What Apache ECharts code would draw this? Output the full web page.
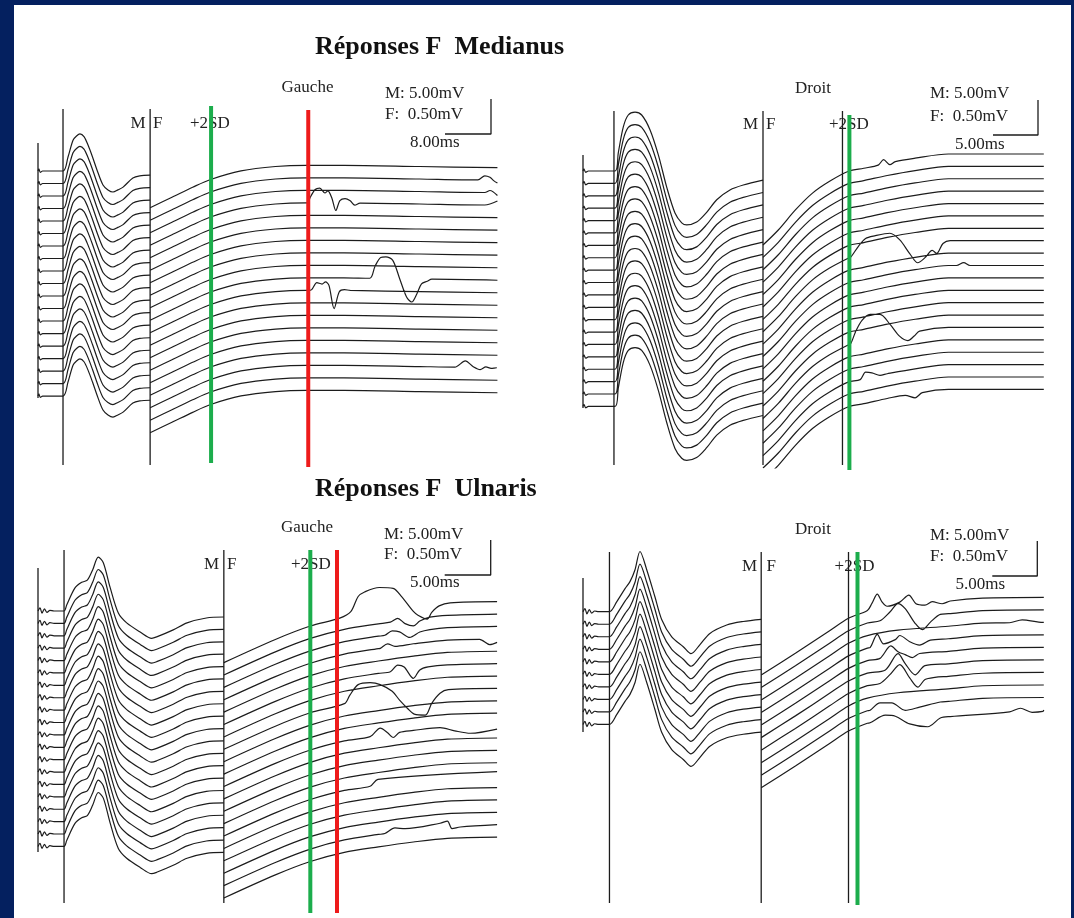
<!DOCTYPE html>
<html>
<head>
<meta charset="utf-8">
<script src="https://cdn.jsdelivr.net/npm/echarts@6/dist/echarts.min.js"></script>
<style>
  html, body { margin: 0; background: #04205f; }
  #chart { position: absolute; left: 14px; top: 5px; width: 1057px; height: 913px; background: #fff; }
</style>
</head>
<body>
<div id="chart"></div>
<script>
// ---- data -----------------------------------------------------------
// time in ms from the stimulus, amplitude in mV
// M-wave templates are in mV at M gain (5 mV / div), F parts at F gain (0.5 mV / div)

const sweepCounts = [19, 20, 20, 10];            // TL, TR, BL, BR
const panelTitles = ['Réponses F  Medianus', 'Réponses F  Ulnaris'];
const sideNames = ['Gauche', 'Droit', 'Gauche', 'Droit'];
const gainLabels = ['M: 5.00mV', 'F:  0.50mV'];
const barMs = [8, 5, 5, 5];
const barMv = 0.5;

const tlMWave = [[0,0],[0.15,0.3],[0.4,-0.2],[0.8,0],[4.35,0],[5.22,2.0],[6.09,4.4],[6.7,5.0],[7.3,5.3],[8.0,4.9],[8.7,3.7],[9.48,2.0],[10.26,0.15],[11.3,-2.0],[12.17,-2.7],[13.04,-3.0],[13.9,-2.7],[14.8,-2.3],[16.5,-1.0],[17.7,-0.7],[19.5,-0.6]];
const trMWave = [[0,0],[0.1,0.3],[0.3,-0.2],[0.6,0],[3.56,0],[3.92,2.6],[4.48,6.3],[5.03,8.0],[5.78,8.4],[6.52,8.0],[7.44,5.9],[8.37,2.3],[9.3,-2.3],[10.22,-6.0],[10.97,-7.4],[11.52,-7.7],[12.63,-7.3],[13.74,-5.9],[14.86,-4.1],[16.33,-2.7],[17.81,-2.0],[20.0,-1.3]];
const blMWave = [[0,0],[0.22,0.45],[0.43,-0.3],[0.7,0.3],[0.98,-0.2],[1.3,0.1],[1.74,0],[2.83,0],[3.12,0.86],[4.02,3.3],[4.75,4.1],[5.36,4.4],[5.95,5.9],[6.55,7.7],[7.1,6.9],[7.83,3.4],[8.73,-0.3],[9.64,-1.7],[11.1,-3.0],[12.36,-3.9],[12.9,-3.7],[14.7,-2.7],[16.2,-1.7],[18.3,-1.0],[20.2,-0.86]];
const brMWave = [[0,0],[0.22,0.45],[0.43,-0.3],[0.7,0.3],[0.98,-0.2],[1.3,0.1],[1.74,0],[2.94,0],[3.74,1.4],[4.67,3.3],[5.22,4.3],[5.78,6.0],[6.33,8.6],[7.08,6.0],[8.0,2.1],[8.74,-1.1],[9.86,-3.6],[11.14,-5.0],[12.0,-6.0],[13.0,-4.7],[14.1,-3.1],[15.97,-1.9],[17.8,-1.4],[19.8,-1.1]];

// slow drift of the F window (1 = level at the M|F cut, 0 = final level)
const tlTail = [[19.5,1],[23.3,0.74],[26.9,0.49],[29.9,0.3],[35.3,0.08],[41.3,-0.03],[46.7,-0.06],[53.2,-0.06],[66.4,-0.03],[79.9,0]];
const trTail = [[20.0,1],[21.7,0.835],[23.6,0.615],[25.5,0.43],[27.4,0.30],[29.5,0.19],[31.2,0.157],[33.8,0.10],[36.9,0.046],[40.6,0],[51.2,0]];
const blTail = [[20.2,1],[25.8,0.62],[29.6,0.4],[33.3,0.25],[37.0,0.16],[40.8,0.08],[44.5,0.02],[49.9,0]];
const brTail = [[19.8,1],[23.6,0.72],[27.4,0.43],[29.5,0.27],[31.6,0.17],[35.0,0.1],[40.6,0.05],[44.4,0.01],[51.2,0]];

// F responses: [sweep, [[ms, mV]]] deviation from the sweep's own level
const tlFWaves = [
  [3, [[46.96,0],[47.3,0.07],[48.2,0.19],[49.0,0.21],[49.9,0.14],[50.4,0.17],[51.1,0.07],[51.8,-0.11],[52.5,0.03],[53.4,0.06],[54.3,0.03],[55.1,-0.03],[56.0,0]]],
  [10, [[47.0,0],[47.6,0.01],[48.5,0.11],[49.4,0.09],[50.0,0.12],[50.6,0.07],[51.5,-0.26],[52.4,-0.02],[53.3,0.01],[54.3,0]]],
  [9, [[57.7,0],[58.6,0.17],[59.6,0.30],[60.5,0.31],[61.7,0.26],[62.9,0],[64.1,-0.26],[65.0,-0.33],[65.9,-0.21],[66.7,-0.07],[67.7,-0.03],[68.5,0]]],
  [16, [[72.5,0],[74.3,0.09],[75.7,0.01],[76.9,-0.03],[77.9,0.01],[78.8,-0.01],[79.8,0]]],
  [1, [[76.5,0],[77.7,0.06],[78.6,0.04],[79.3,-0.01],[79.9,-0.04]]],
  [2, [[77.7,0],[78.6,0.03],[79.9,-0.04]]],
  [3, [[77.7,0],[79.9,0.06]]]
];
const trFWaves = [
  [7, [[29.7,0],[30.6,0.14],[31.4,0.23],[32.4,0.24],[34.1,0.23],[35.2,0.11],[36.3,-0.11],[37.2,-0.26],[38.0,-0.2],[38.8,-0.11],[39.3,-0.16],[40.0,-0.03],[40.8,0]]],
  [14, [[29.7,0],[30.3,0.17],[31.0,0.31],[31.9,0.37],[33.0,0.34],[34.1,0.17],[35.2,-0.03],[36.1,-0.11],[36.8,-0.06],[37.4,0]]],
  [17, [[30.8,0],[31.4,0.09],[32.1,0.06],[33.0,0]]],
  [19, [[35.8,0],[36.9,-0.06],[37.7,0]]],
  [0, [[32.8,0],[33.4,0.06],[34.1,-0.03],[34.7,0]]],
  [9, [[41.5,0],[42.3,0.04],[43.0,0]]]
];
const blFWaves = [
  [0, [[32.8,0],[34.0,0.06],[34.8,0.26],[35.5,0.31],[37.1,0.34],[38.6,0.3],[39.5,0.17],[40.8,-0.07],[41.3,-0.13],[42.3,-0.2],[42.8,-0.11],[43.6,-0.03],[44.8,0]]],
  [7, [[33.3,0],[33.9,0.11],[34.8,0.24],[36.1,0.24],[37.2,0.19],[38.5,0.07],[39.3,-0.07],[40.2,-0.21],[40.9,-0.3],[42.1,-0.33],[42.8,-0.17],[43.7,-0.04],[44.6,0]]],
  [1, [[38.3,0],[39.1,0.04],[39.9,-0.05],[40.8,-0.1],[41.5,-0.04],[42.6,0]]],
  [2, [[37.7,0],[38.5,0.05],[39.3,0.02],[40.4,-0.08],[41.5,-0.02],[42.6,0]]],
  [3, [[37.2,0],[38.0,0.05],[38.8,0]]],
  [3, [[48.0,0],[49.1,-0.08],[49.9,-0.05]]],
  [5, [[38.3,0],[39.1,0.08],[39.8,0.04],[40.8,-0.14],[41.5,-0.03],[42.4,0]]],
  [10, [[36.1,0],[37.2,0.1],[38.0,0.02],[38.6,-0.06],[39.3,0]]],
  [10, [[43.7,0],[45.3,-0.06],[47.0,-0.1],[49.9,-0.05]]],
  [14, [[36.1,0],[36.95,0.08],[49.9,0.05]]],
  [18, [[37.7,0],[38.8,0.06],[39.9,0.03],[43.7,0.05],[44.5,0.07],[45.0,-0.04],[45.9,-0.02],[49.9,0]]]
];
const brFWaves = [
  [0, [[31.6,0],[32.1,0.09],[32.7,0.21],[33.2,0.09],[33.8,0.01],[35.2,0.04],[36.2,0.13],[37.0,0],[38.0,-0.03],[38.8,0.01],[39.9,-0.03],[40.8,0]]],
  [1, [[33.0,0],[34.1,0.1],[35.0,0.2],[35.8,0.12],[36.9,-0.1],[37.7,-0.2],[38.6,-0.1],[39.7,0]]],
  [3, [[31.9,0],[32.7,0.17],[33.4,0.02],[34.7,0.05],[35.2,0.1],[36.3,0],[37.4,-0.06],[38.6,0]]],
  [4, [[33.0,0],[34.2,0.15],[35.0,0.05],[35.8,0],[36.6,-0.05],[37.4,0]]],
  [5, [[33.6,0],[35.0,0.2],[35.8,0.05],[36.9,-0.12],[38.0,0]]],
  [6, [[33.0,0],[34.1,0.1],[35.2,0.22],[36.3,0.02],[37.2,-0.12],[38.0,-0.02],[39.1,0]]],
  [8, [[31.9,0],[33.0,0.08],[34.3,0.05],[35.8,-0.08],[37.4,-0.05],[39.7,0]]],
  [9, [[31.9,0],[33.6,0.07],[34.7,0.03],[36.3,-0.1],[38.3,-0.16],[39.7,-0.05],[40.8,-0.04],[47.4,-0.02],[48.6,0.03],[49.9,-0.03],[51.1,-0.02]]],
  [2, [[47.4,0],[48.8,0.04],[51.1,0]]]
];

// vertical cursors (ms): M onset, M|F cut, second +2SD cursor
const tlBlack = [4.35, 19.5];
const trBlack = [3.44, 20.0, 28.83];
const blBlack = [2.83, 20.2];
const brBlack = [2.94, 19.8, 29.5];
const tlGreen = [30.1], trGreen = [29.6], blGreen = [29.6], brGreen = [30.5];
const tlRed = [47.0], trRed = [], blRed = [32.5], brRed = [];

// ---- layout (page pixels) -------------------------------------------
const OX = 14, OY = 5;           // chart div offset in the page
const PX_PER_MV = 70;            // 0.5 mV bar is 35 px
const M_TO_F = 10;               // M gain is ten times coarser

const panels = [
  { x0: 38, y0: 171, pxMs: 5.75, xMax: 81, top: 95, bottom: 470, step: 0.1786, fEnd: 0.047, rise: 0.571,
    mWave: tlMWave, tail: tlTail, fWaves: tlFWaves, black: tlBlack, green: tlGreen, red: tlRed,
    stimSpan: [143, 398], blackSpan: [109, 465], greenSpan: [106, 463], redSpan: [110, 467], bar: [491, 134],
    side: [307.5, 88], mf: [145.5, 153, 124], sd: [190, 124], gain: [385, 94, 115], barText: [410, 143] },
  { x0: 583, y0: 171, pxMs: 9.0, xMax: 53, top: 100, bottom: 468, step: 0.177, fEnd: 0.243, rise: 1.3,
    mWave: trMWave, tail: trTail, fWaves: trFWaves, black: trBlack, green: trGreen, red: trRed,
    stimSpan: [155, 408], blackSpan: [111, 465], greenSpan: [115, 470], redSpan: [0, 0], bar: [1038, 135],
    side: [813, 89], mf: [758, 766, 125], sd: [829, 125], gain: [930, 94, 117], barText: [955, 145] },
  { x0: 38, y0: 611, pxMs: 9.2, xMax: 51, top: 538, bottom: 915, step: 0.177, fEnd: 0.133, rise: 0.87,
    mWave: blMWave, tail: blTail, fWaves: blFWaves, black: blBlack, green: blGreen, red: blRed,
    stimSpan: [568, 852], blackSpan: [550, 903], greenSpan: [550, 913], redSpan: [550, 913], bar: [490.7, 575],
    side: [307, 528], mf: [219, 227, 565], sd: [291, 565], gain: [384, 535, 555], barText: [410, 583] },
  { x0: 583, y0: 611.7, pxMs: 9.0, xMax: 53, top: 538, bottom: 910, step: 0.179, fEnd: 0.206, rise: 1.11,
    mWave: brMWave, tail: brTail, fWaves: brFWaves, black: brBlack, green: brGreen, red: brRed,
    stimSpan: [578, 732], blackSpan: [552, 903], greenSpan: [552, 905], redSpan: [0, 0], bar: [1037.3, 576],
    side: [813, 530], mf: [757, 766.5, 567], sd: [834.6, 567], gain: [930, 536, 557], barText: [955.5, 585] }
];

const FONT = "'Liberation Serif', 'Times New Roman', serif";
const INK = '#1c1c1c';

function lerp(pts, t) {
  if (t <= pts[0][0]) return pts[0][1];
  for (let k = 1; k < pts.length; k++) {
    if (t <= pts[k][0]) {
      const [a, va] = pts[k - 1], [b, vb] = pts[k];
      return va + (vb - va) * (t - a) / (b - a);
    }
  }
  return pts[pts.length - 1][1];
}

function sweepData(p, i) {
  const out = [];
  const base = -i * p.step;
  p.mWave.forEach(([t, a]) => out.push([t, base + a / M_TO_F]));
  out.push([p.mWave[p.mWave.length - 1][0], '-']);

  const waves = p.fWaves.filter(w => w[0] === i).map(w => w[1]);
  const inside = t => waves.some(w => t > w[0][0] && t < w[w.length - 1][0]);
  let ts = p.tail.map(d => d[0]).filter(t => !inside(t));
  waves.forEach(w => w.forEach(d => ts.push(d[0])));
  ts = [...new Set(ts)].sort((a, b) => a - b);
  const level = p.fEnd - i * p.step;
  ts.forEach(t => {
    let d = 0;
    waves.forEach(w => { if (t >= w[0][0] && t <= w[w.length - 1][0]) d += lerp(w, t); });
    // the F window starts low (tail of the M-wave at high gain) and settles upwards
    out.push([t, level - p.rise * lerp(p.tail, t) + d]);
  });
  out.push([ts[ts.length - 1], '-']);
  return out;
}

const toT = (p, x) => (x - p.x0) / p.pxMs;
const toV = (p, y) => (p.y0 - y) / PX_PER_MV;

function cursorData(p, times, span) {
  const out = [];
  times.forEach(t => { out.push([t, toV(p, span[0])], [t, toV(p, span[1])], [t, '-']); });
  return out;
}

const grids = [], xAxes = [], yAxes = [], series = [], graphics = [];

panels.forEach((p, g) => {
  const xMin = -1;
  grids.push({
    left: p.x0 - OX + xMin * p.pxMs, width: (p.xMax - xMin) * p.pxMs,
    top: p.top - OY, height: p.bottom - p.top
  });
  xAxes.push({ type: 'value', gridIndex: g, min: xMin, max: p.xMax, show: false });
  yAxes.push({ type: 'value', gridIndex: g, min: toV(p, p.bottom), max: toV(p, p.top), show: false });

  const sweeps = [];
  for (let i = 0; i < sweepCounts[g]; i++) sweeps.push(...sweepData(p, i));
  series.push({
    type: 'line', xAxisIndex: g, yAxisIndex: g, data: sweeps, smooth: 0.3,
    showSymbol: false, silent: true, clip: true,
    lineStyle: { color: INK, width: 1.2 }, z: 2
  });

  const stim = [[0, toV(p, p.stimSpan[0])], [0, toV(p, p.stimSpan[1])], [0, '-']];
  series.push({
    type: 'line', xAxisIndex: g, yAxisIndex: g, showSymbol: false, silent: true,
    data: stim.concat(cursorData(p, p.black, p.blackSpan)),
    lineStyle: { color: INK, width: 1.3 }, z: 3
  });
  if (p.green.length) series.push({
    type: 'line', xAxisIndex: g, yAxisIndex: g, showSymbol: false, silent: true,
    data: cursorData(p, p.green, p.greenSpan), lineStyle: { color: '#1cad4c', width: 4 }, z: 4
  });
  if (p.red.length) series.push({
    type: 'line', xAxisIndex: g, yAxisIndex: g, showSymbol: false, silent: true,
    data: cursorData(p, p.red, p.redSpan), lineStyle: { color: '#ee1b1b', width: 4 }, z: 4
  });

  // calibration bar: corner at bottom right
  const bt = toT(p, p.bar[0]), bv = toV(p, p.bar[1]);
  series.push({
    type: 'line', xAxisIndex: g, yAxisIndex: g, showSymbol: false, silent: true,
    data: [[bt - barMs[g], bv], [bt, bv], [bt, bv + barMv]],
    lineStyle: { color: INK, width: 1.3 }, z: 3
  });

  const txt = (text, x, y, align) => graphics.push({
    type: 'text', x: x - OX, y: y - OY, silent: true,
    style: { text, fill: '#222', font: '17px ' + FONT, textAlign: align, textVerticalAlign: 'middle',
             align, verticalAlign: 'middle' }
  });
  txt(sideNames[g], p.side[0], p.side[1], 'center');
  txt('M', p.mf[0], p.mf[2], 'right');
  txt('F', p.mf[1], p.mf[2], 'left');
  txt('+2SD', p.sd[0], p.sd[1], 'left');
  txt(gainLabels[0], p.gain[0], p.gain[1], 'left');
  txt(gainLabels[1], p.gain[0], p.gain[2], 'left');
  txt(barMs[g].toFixed(2) + 'ms', p.barText[0], p.barText[1], 'left');
});

[[315, 47], [315, 489]].forEach(([x, y], k) => graphics.push({
  type: 'text', x: x - OX, y: y - OY, silent: true,
  style: { text: panelTitles[k], fill: '#111', font: 'bold 26px ' + FONT,
           textAlign: 'left', textVerticalAlign: 'middle', align: 'left', verticalAlign: 'middle' }
}));

const chart = echarts.init(document.getElementById('chart'), null, { renderer: 'canvas' });
chart.setOption({
  animation: false,
  grid: grids, xAxis: xAxes, yAxis: yAxes,
  series: series,
  graphic: { elements: graphics }
});
</script>
</body>
</html>
